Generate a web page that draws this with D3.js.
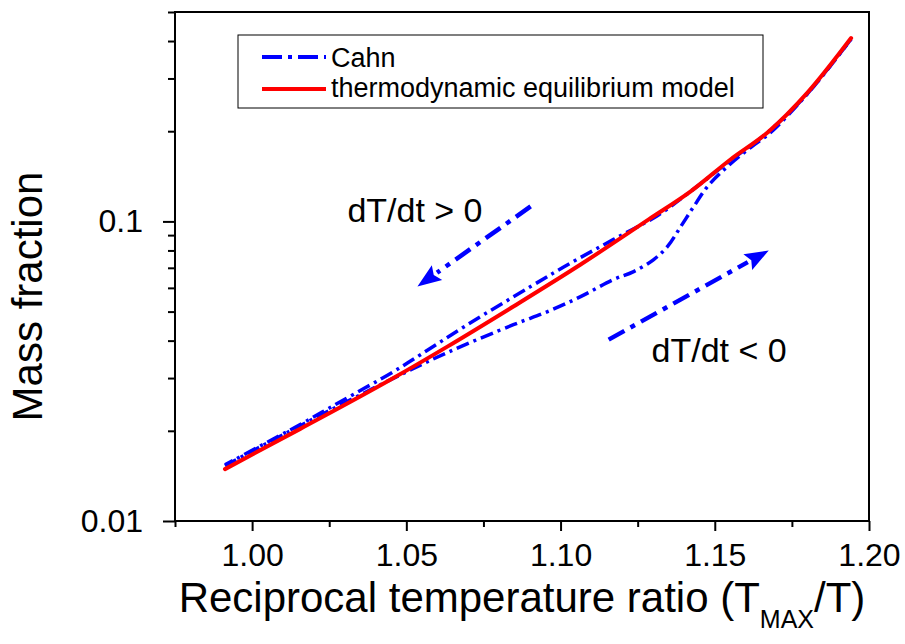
<html>
<head>
<style>
  body { margin: 0; background: #fff; }
  text { font-family: "Liberation Sans", Arial, sans-serif; }
</style>
<script src="https://d3js.org/d3.v7.min.js"></script>
</head>
<body>
<svg width="905" height="644"></svg>
<script>
// model curve
const modelX = [0.9912, 1.0156, 1.0448, 1.0633, 1.0847, 1.1065, 1.1286, 1.1422, 1.1552, 1.1672, 1.1802, 1.1942];
const modelY = [0.0149, 0.0203, 0.0296, 0.0382, 0.0520, 0.0718, 0.1016, 0.1260, 0.1612, 0.1984, 0.2701, 0.4093];

// Cahn, cooling branch (left to right)
const coolX = [0.9912, 1.0156, 1.0416, 1.0633, 1.0847, 1.0958, 1.1065, 1.1172, 1.1237, 1.1302, 1.1347, 1.1390, 1.1432, 1.1477, 1.1542, 1.1617, 1.1682, 1.1802, 1.1942];
const coolY = [0.0153, 0.0208, 0.0285, 0.0365, 0.0452, 0.0500, 0.0561, 0.0640, 0.0680, 0.0746, 0.0825, 0.0962, 0.1122, 0.1310, 0.1527, 0.1768, 0.1984, 0.2680, 0.4062];

// Cahn, heating branch (right to left)
const heatX = [1.1942, 1.1802, 1.1672, 1.1552, 1.1422, 1.1315, 1.1172, 1.1042, 1.0903, 1.0698, 1.0546, 1.0458, 1.0286, 1.0156, 0.9912];
const heatY = [0.4062, 0.2680, 0.1984, 0.1600, 0.1260, 0.1047, 0.0871, 0.0735, 0.0606, 0.0452, 0.0359, 0.0315, 0.0250, 0.0210, 0.0154];

const xMajor = [1.00, 1.05, 1.10, 1.15, 1.20];
const xMinor = [0.975, 1.025, 1.075, 1.125, 1.175];
const yMajor = [0.01, 0.1];
const yMinor = [0.02, 0.03, 0.04, 0.05, 0.06, 0.07, 0.08, 0.09, 0.2, 0.3, 0.4, 0.5];

// annotation arrows: [x0, y0, x1(tip), y1(tip)]
const arrows = [[1.0903, 0.1122, 1.0536, 0.0606], [1.1156, 0.0403, 1.1675, 0.0800]];

let svg = d3.select("svg"),
    pl = 175, pt = 12, pr = 869, pb = 521;

let x = d3.scaleLinear().domain([0.975, 1.20]).range([pl, pr]),
    y = d3.scaleLog().domain([0.01, 0.5]).range([pb, pt]);

// frame
svg.append("rect")
   .attr("x", pl).attr("y", pt)
   .attr("width", pr - pl).attr("height", pb - pt)
   .attr("fill", "none").attr("stroke", "#000").attr("stroke-width", 2);

// x axis
let gx = svg.append("g").attr("transform", "translate(0," + pb + ")");
gx.call(d3.axisBottom(x).tickValues(xMajor).tickFormat(d3.format(".2f")).tickSize(10).tickPadding(12));
gx.append("g").call(d3.axisBottom(x).tickValues(xMinor).tickFormat("").tickSize(6));
gx.selectAll("path.domain").remove();
gx.selectAll("line").attr("stroke", "#000").attr("stroke-width", 2);
gx.selectAll("text").attr("font-size", 32).attr("fill", "#000")
  .attr("font-family", "Liberation Sans, Arial, sans-serif");

// y axis
let gy = svg.append("g").attr("transform", "translate(" + pl + ",0)");
gy.call(d3.axisLeft(y).tickValues(yMajor).tickFormat(d => d === 0.1 ? "0.1" : "0.01").tickSize(12).tickPadding(20));
gy.append("g").call(d3.axisLeft(y).tickValues(yMinor).tickFormat("").tickSize(7));
gy.selectAll("path.domain").remove();
gy.selectAll("line").attr("stroke", "#000").attr("stroke-width", 2);
gy.selectAll("text").attr("font-size", 32).attr("fill", "#000")
  .attr("font-family", "Liberation Sans, Arial, sans-serif");

// axis titles
svg.append("text")
   .attr("transform", "translate(42," + ((pt + pb) / 2 + 30) + ") rotate(-90)")
   .attr("text-anchor", "middle")
   .attr("font-size", 42)
   .text("Mass fraction");

let xt = svg.append("text")
   .attr("x", (pl + pr) / 2).attr("y", 612)
   .attr("text-anchor", "middle")
   .attr("font-size", 42);
xt.append("tspan").text("Reciprocal temperature ratio (T");
xt.append("tspan").attr("font-size", 25).attr("dy", 16).text("MAX");
xt.append("tspan").attr("dy", -16).text("/T)");

// curves
svg.append("defs").append("clipPath").attr("id", "clip")
   .append("rect").attr("x", pl).attr("y", pt).attr("width", pr - pl).attr("height", pb - pt);

let line = d3.line().x(d => x(d[0])).y(d => y(d[1])).curve(d3.curveMonotoneX);
let lineAny = d3.line().x(d => x(d[0])).y(d => y(d[1])).curve(d3.curveCatmullRom.alpha(0.5));

let plot = svg.append("g").attr("clip-path", "url(#clip)");

plot.append("path")
    .datum(coolX.map((v, i) => [v, coolY[i]]))
    .attr("d", lineAny)
    .attr("fill", "none").attr("stroke", "#0000ff").attr("stroke-width", 3.5)
    .attr("stroke-dasharray", "13,5,3,5");

plot.append("path")
    .datum(heatX.map((v, i) => [v, heatY[i]]))
    .attr("d", lineAny)
    .attr("fill", "none").attr("stroke", "#0000ff").attr("stroke-width", 3.5)
    .attr("stroke-dasharray", "13,5,3,5");

plot.append("path")
    .datum(modelX.map((v, i) => [v, modelY[i]]))
    .attr("d", line)
    .attr("fill", "none").attr("stroke", "#ff0000").attr("stroke-width", 4)
    .attr("stroke-linecap", "round");

// arrows
arrows.forEach(a => {
    let x0 = x(a[0]), y0 = y(a[1]), x1 = x(a[2]), y1 = y(a[3]);
    let dx = x1 - x0, dy = y1 - y0, len = Math.sqrt(dx * dx + dy * dy);
    let ux = dx / len, uy = dy / len, hl = 24, hw = 9;
    let bx = x1 - ux * hl, by = y1 - uy * hl;
    svg.append("line")
       .attr("x1", x0).attr("y1", y0).attr("x2", bx).attr("y2", by)
       .attr("stroke", "#0000ff").attr("stroke-width", 4.5)
       .attr("stroke-dasharray", "18,7,5,7");
    svg.append("polygon")
       .attr("points", [[x1, y1], [bx - uy * hw, by + ux * hw], [bx + ux * 4, by + uy * 4], [bx + uy * hw, by - ux * hw]].join(" "))
       .attr("fill", "#0000ff");
});

// annotations
svg.append("text")
   .attr("x", x(1.0747)).attr("y", y(0.0992))
   .attr("text-anchor", "end").attr("font-size", 34)
   .text("dT/dt > 0");
svg.append("text")
   .attr("x", x(1.1295)).attr("y", y(0.0340))
   .attr("font-size", 34)
   .text("dT/dt < 0");

// legend
let lg = svg.append("g");
lg.append("rect").attr("x", 238).attr("y", 35).attr("width", 525).attr("height", 73)
  .attr("fill", "#fff").attr("stroke", "#000").attr("stroke-width", 1);
lg.append("line").attr("x1", 262).attr("x2", 326).attr("y1", 57).attr("y2", 57)
  .attr("stroke", "#0000ff").attr("stroke-width", 4).attr("stroke-dasharray", "20,6,4,6");
lg.append("line").attr("x1", 262).attr("x2", 326).attr("y1", 89).attr("y2", 89)
  .attr("stroke", "#ff0000").attr("stroke-width", 4);
lg.append("text").attr("x", 331).attr("y", 67).attr("font-size", 27).text("Cahn");
lg.append("text").attr("x", 331).attr("y", 97).attr("font-size", 27).text("thermodynamic equilibrium model");
</script>
</body>
</html>
